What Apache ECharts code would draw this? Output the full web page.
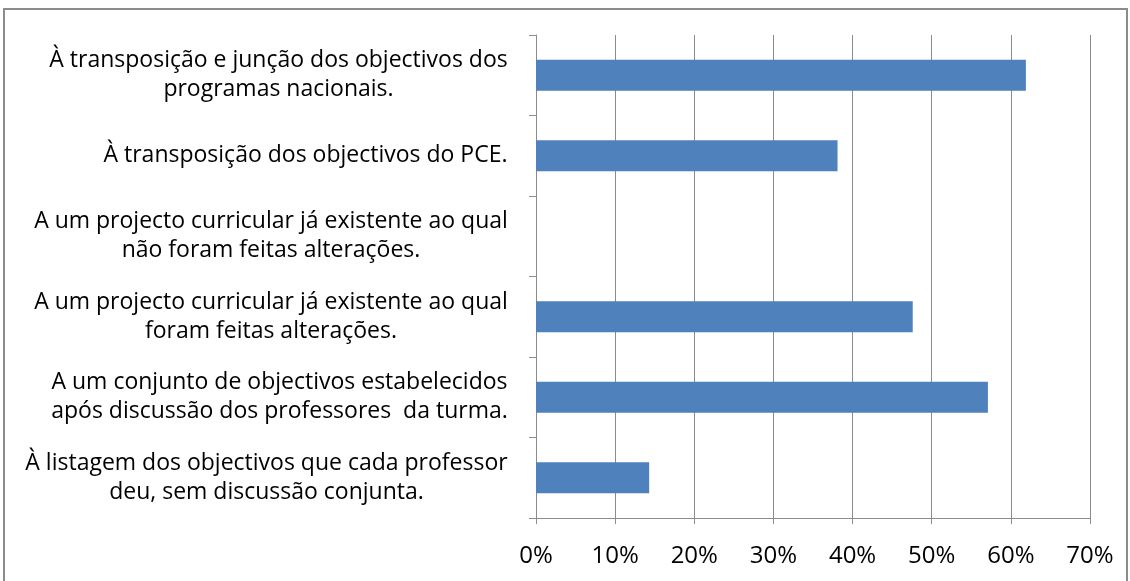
<!DOCTYPE html>
<html lang="pt" style="height: 100%">
<head>
  <meta charset="utf-8">
</head>
<body style="height: 100%; margin: 0; background: #fff">
  <div id="container" style="width: 1130px; height: 581px"></div>
  <script src="https://cdn.jsdelivr.net/npm/echarts@6/dist/echarts.min.js"></script>
  <script>
    // categorias, de cima para baixo
    var categories = [
      'À transposição e junção dos objectivos dos\nprogramas nacionais.',
      'À transposição dos objectivos do PCE.',
      'A um projecto curricular já existente ao qual\nnão foram feitas alterações.',
      'A um projecto curricular já existente ao qual\nforam feitas alterações.',
      'A um conjunto de objectivos estabelecidos\napós discussão dos professores  da turma.',
      'À listagem dos objectivos que cada professor\ndeu, sem discussão conjunta.'
    ];
    var values = [61.9, 38.1, 0, 47.6, 57.1, 14.3];
    var xTicks = [0, 10, 20, 30, 40, 50, 60, 70];

    var fontFamily = 'Open Sans';
    var fontSize = 23;

    // largura de cada rótulo, para centrar as linhas dentro do bloco
    var ctx = document.createElement('canvas').getContext('2d');
    ctx.font = fontSize + 'px "' + fontFamily + '"';
    var rich = {};
    categories.forEach(function (c, i) {
      var w = 0;
      c.split('\n').forEach(function (line) {
        w = Math.max(w, ctx.measureText(line).width);
      });
      rich['l' + i] = {
        width: Math.ceil(w),
        align: 'center',
        fontFamily: fontFamily,
        fontSize: fontSize,
        lineHeight: 29,
        color: '#000'
      };
    });

    var chart = echarts.init(document.getElementById('container'), null, { renderer: 'canvas' });

    chart.setOption({
      animation: false,
      grid: { left: 536, right: 40, top: 35, bottom: 63 },
      xAxis: {
        type: 'value',
        min: xTicks[0],
        max: xTicks[xTicks.length - 1],
        interval: 10,
        axisLine: { show: true, lineStyle: { color: '#8c8c8c', width: 1 } },
        axisTick: { show: true, length: 6, lineStyle: { color: '#8c8c8c' } },
        splitLine: { show: true, lineStyle: { color: '#8c8c8c', width: 1 } },
        axisLabel: {
          margin: 26,
          color: '#000',
          fontFamily: fontFamily,
          fontSize: 24,
          formatter: '{value}%'
        }
      },
      yAxis: {
        type: 'category',
        inverse: true,
        data: categories,
        axisLine: { show: true, lineStyle: { color: '#8c8c8c', width: 1 } },
        axisTick: { show: true, length: 7, lineStyle: { color: '#8c8c8c' } },
        axisLabel: {
          margin: 28,
          align: 'right',
          rich: rich,
          formatter: function (value, index) {
            return value.split('\n').map(function (l) {
              return '{l' + index + '|' + l + '}';
            }).join('\n');
          }
        }
      },
      series: [{
        type: 'bar',
        data: values,
        barWidth: 31,
        itemStyle: { color: '#4f81bd' }
      }],
      graphic: [{
        type: 'rect',
        shape: { x: 4, y: 9, width: 1123, height: 600 },
        style: { fill: 'none', stroke: '#8c8c8c', lineWidth: 2 },
        z: -1
      }]
    });

    window.addEventListener('resize', chart.resize);
  </script>
</body>
</html>
